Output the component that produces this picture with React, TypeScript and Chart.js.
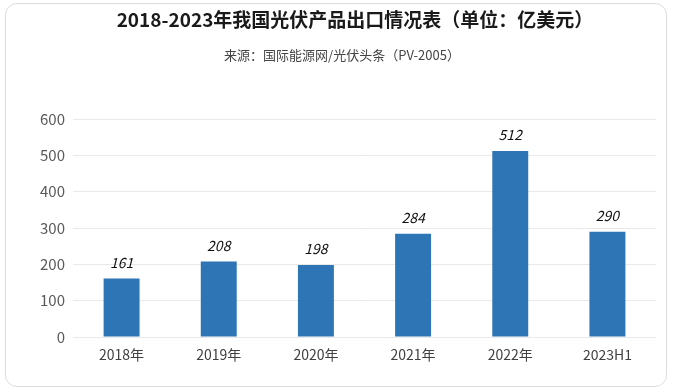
import React, { useEffect, useRef } from "react";
import { Chart, registerables } from "chart.js";

Chart.register(...registerables);

const categories = ["2018年", "2019年", "2020年", "2021年", "2022年", "2023H1"];
const exportValues = [161, 208, 198, 284, 512, 290];
const yTicks = [0, 100, 200, 300, 400, 500, 600];
const titleText = "2018-2023年我国光伏产品出口情况表（单位：亿美元）";
const subtitleText = "来源：国际能源网/光伏头条（PV-2005）";

const FONT = '"Noto Sans CJK SC", "Noto Sans", sans-serif';

export default function App() {
  const ref = useRef<HTMLCanvasElement>(null);
  useEffect(() => {
    const canvas = ref.current;
    if (!canvas) return;
    const titlePlugin = {
      id: "titles",
      afterDraw(chart: any) {
        const ctx = chart.ctx;
        ctx.save();
        ctx.textAlign = "center";
        ctx.textBaseline = "middle";
        ctx.fillStyle = "#1a1a1a";
        ctx.font = `bold 19px ${FONT}`;
        ctx.fillText(titleText, 355, 20);
        ctx.fillStyle = "#444";
        ctx.font = `13px ${FONT}`;
        ctx.fillText(subtitleText, 342, 55);
        ctx.restore();
      },
    };
    const labelPlugin = {
      id: "valueLabels",
      afterDatasetsDraw(chart: any) {
        const ctx = chart.ctx;
        const meta = chart.getDatasetMeta(0);
        ctx.save();
        ctx.textAlign = "center";
        ctx.textBaseline = "middle";
        ctx.fillStyle = "#111";
        ctx.font = `italic 14px ${FONT}`;
        meta.data.forEach((bar: any, i: number) => {
          ctx.fillText(String(exportValues[i]), bar.x, bar.y - 16);
        });
        ctx.restore();
      },
    };
    const chart = new Chart(canvas, {
      type: "bar",
      data: {
        labels: categories,
        datasets: [
          {
            data: exportValues,
            backgroundColor: "#2E75B6",
            categoryPercentage: 1,
            barPercentage: 0.37,
          },
        ],
      },
      options: {
        responsive: false,
        animation: false,
        layout: { padding: { top: 119, left: 13, right: 17, bottom: 15 } },
        plugins: {
          legend: { display: false },
          tooltip: { enabled: false },
          title: { display: false },
        },
        scales: {
          x: {
            grid: { display: false, drawTicks: false },
            border: { display: false },
            ticks: { color: "#404040", font: { family: FONT, size: 14 }, padding: 9 },
            afterFit: (s: any) => {
              s.height = 40;
            },
          },
          y: {
            min: 0,
            max: 600,
            afterBuildTicks: (s: any) => {
              s.ticks = yTicks.map((v) => ({ value: v }));
            },
            grid: { color: "#e9e9e9", drawTicks: false, lineWidth: 1 },
            border: { display: false },
            ticks: { color: "#595959", font: { family: FONT, size: 15 }, padding: 8 },
            afterFit: (s: any) => {
              s.width = 60;
            },
          },
        },
      },
      plugins: [titlePlugin, labelPlugin],
    });
    return () => chart.destroy();
  }, []);
  return (
    <div style={{ position: "absolute", left: 0, top: 0, width: 673, height: 392, background: "#fff" }}>
      <canvas ref={ref} width={673} height={392} style={{ position: "absolute", left: 0, top: 0 }} />
      <div
        style={{
          position: "absolute",
          left: 5,
          top: 3,
          width: 660,
          height: 382,
          border: "1.5px solid #dcdcdc",
          borderRadius: 12,
          pointerEvents: "none",
        }}
      />
    </div>
  );
}
